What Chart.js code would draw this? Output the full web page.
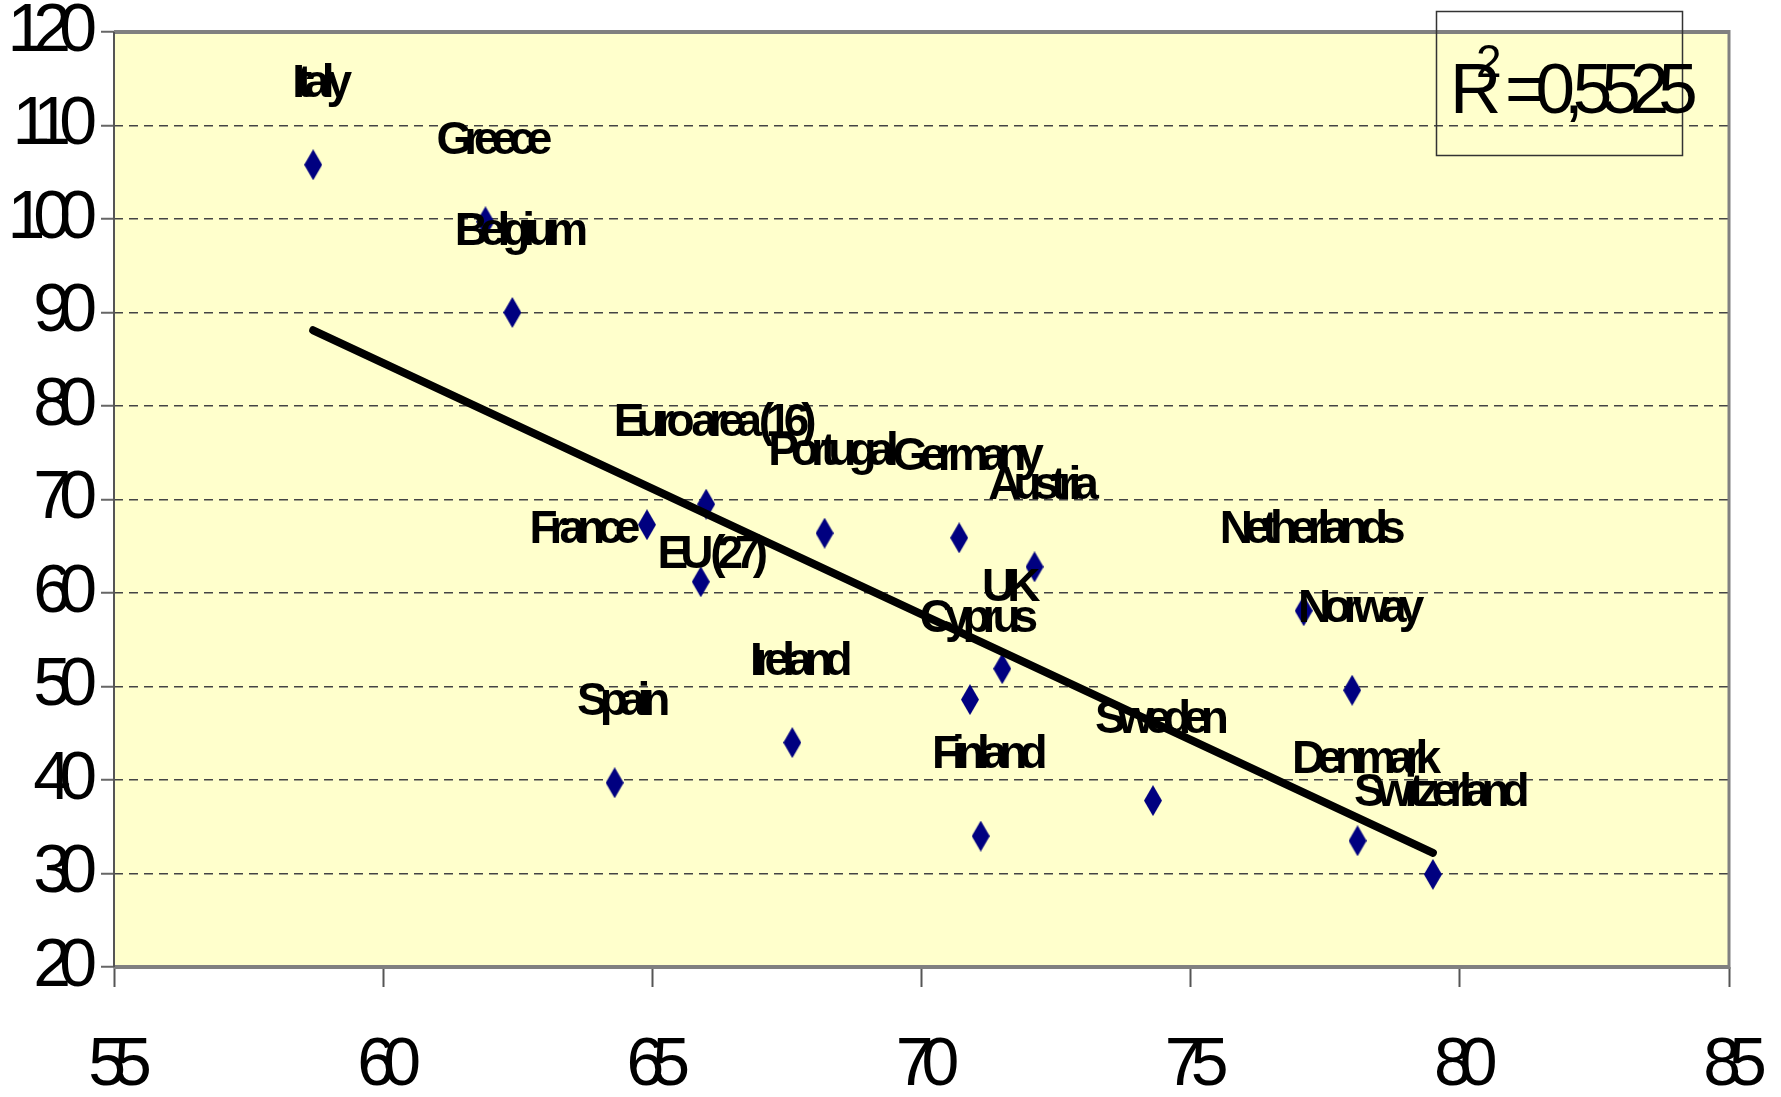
<!DOCTYPE html>
<html lang="en">
<head>
  <meta charset="UTF-8">
  <title>Scatter with trend line</title>
  <script src="https://cdn.jsdelivr.net/npm/chart.js"></script>
  <style>
    html, body { margin: 0; padding: 0; background: #fff; }
    #wrap { width: 1781px; height: 1097px; }
  </style>
</head>
<body>
  <div id="wrap"><canvas id="grafico" width="1781" height="1097"></canvas></div>

  <script>
    // data
    const countries = ['Italy', 'Greece', 'Belgium', 'Euro area (16)', 'France', 'EU (27)', 'Portugal',
      'Germany', 'Austria', 'UK', 'Cyprus', 'Ireland', 'Spain', 'Finland', 'Sweden',
      'Netherlands', 'Norway', 'Denmark', 'Switzerland'];
    const xValues = [58.7, 61.9, 62.4, 66.0, 64.9, 65.9, 68.2, 70.7, 72.1, 71.5, 70.9, 67.6, 64.3, 71.1, 74.3,
      77.1, 78.0, 78.1, 79.5];
    const yValues = [105.8, 99.7, 90.0, 69.5, 67.3, 61.2, 66.4, 65.9, 62.8, 51.9, 48.6, 44.0, 39.7, 34.0, 37.8,
      58.1, 49.6, 33.5, 29.9];
    const trendX = [58.7, 79.5];
    const trendY = [88.1, 32.2];
    const xTicks = [55, 60, 65, 70, 75, 80, 85];
    const yTicks = [20, 30, 40, 50, 60, 70, 80, 90, 100, 110, 120];
    const r2Value = '0,5525';

    // label placement (px from the point), most sit above the marker
    const labelShift = { 'France': [-66, 18], 'EU (27)': [8, -14] };
    const defaultShift = [5, -68];

    const FONT = "'Liberation Sans', Arial, sans-serif";

    // tall narrow diamond marker
    function diamond(w, h, color) {
      const c = document.createElement('canvas');
      c.width = w; c.height = h;
      const g = c.getContext('2d');
      g.fillStyle = color;
      g.beginPath();
      g.moveTo(w / 2, 0);
      g.lineTo(w, h / 2);
      g.lineTo(w / 2, h);
      g.lineTo(0, h / 2);
      g.closePath();
      g.fill();
      return c;
    }

    const points = xValues.map((x, i) => ({ x: x, y: yValues[i] }));
    const trend = trendX.map((x, i) => ({ x: x, y: trendY[i] }));

    const tightText = {
      id: 'tightText',
      beforeLayout(chart) { chart.ctx.letterSpacing = '-12px'; },
      beforeDraw(chart) {
        const { ctx, chartArea: a } = chart;
        ctx.letterSpacing = '-12px';
        ctx.save();
        ctx.fillStyle = '#FFFFCC';
        ctx.fillRect(a.left, a.top, a.right - a.left, a.bottom - a.top);
        ctx.restore();
      }
    };

    const frame = {
      id: 'frame',
      beforeDatasetsDraw(chart) {
        const { ctx, chartArea: a } = chart;
        ctx.save();
        ctx.strokeStyle = '#808080';
        ctx.lineWidth = 4;
        ctx.beginPath(); ctx.moveTo(a.left, a.top); ctx.lineTo(a.right, a.top); ctx.stroke();
        ctx.beginPath(); ctx.moveTo(a.left, a.bottom); ctx.lineTo(a.right, a.bottom); ctx.stroke();
        ctx.lineWidth = 3;
        ctx.beginPath(); ctx.moveTo(a.right, a.top - 2); ctx.lineTo(a.right, a.bottom + 2); ctx.stroke();
        ctx.strokeStyle = '#555';
        ctx.lineWidth = 2;
        ctx.beginPath(); ctx.moveTo(a.left, a.top); ctx.lineTo(a.left, a.bottom); ctx.stroke();
        ctx.restore();
      }
    };

    const pointLabels = {
      id: 'pointLabels',
      afterDatasetsDraw(chart) {
        const ctx = chart.ctx;
        const meta = chart.getDatasetMeta(0);
        ctx.save();
        ctx.font = 'bold 46px ' + FONT;
        ctx.letterSpacing = '-8px';
        ctx.fillStyle = '#000';
        ctx.textAlign = 'center';
        ctx.textBaseline = 'alphabetic';
        meta.data.forEach((p, i) => {
          const s = labelShift[countries[i]] || defaultShift;
          ctx.fillText(countries[i], p.x + s[0], p.y + s[1]);
        });
        ctx.restore();
      },
      afterDraw(chart) {
        const ctx = chart.ctx;
        ctx.save();
        ctx.strokeStyle = '#333';
        ctx.lineWidth = 1.5;
        ctx.strokeRect(1436.5, 11.5, 246, 144);
        ctx.fillStyle = '#000';
        ctx.textAlign = 'left';
        ctx.textBaseline = 'alphabetic';
        ctx.letterSpacing = '-11px';
        ctx.font = '71px ' + FONT;
        ctx.fillText('R', 1450, 113);
        ctx.fillText('=' + r2Value, 1505, 113);
        ctx.letterSpacing = '0px';
        ctx.font = '46px ' + FONT;
        ctx.fillText('2', 1476, 77);
        ctx.restore();
      }
    };

    new Chart(document.getElementById('grafico'), {
      type: 'scatter',
      data: {
        datasets: [{
          label: 'Countries',
          data: points,
          pointStyle: diamond(18, 31, '#000080'),
          pointRadius: 9,
          pointHoverRadius: 9,
          order: 2
        }, {
          type: 'line',
          label: 'Trend',
          data: trend,
          borderColor: '#000',
          borderWidth: 8,
          borderCapStyle: 'round',
          pointRadius: 0,
          fill: false,
          order: 1
        }]
      },
      options: {
        responsive: false,
        animation: false,
        devicePixelRatio: 1,
        layout: { padding: { left: 0, right: 52, top: 32, bottom: 0 } },
        plugins: { legend: { display: false }, tooltip: { enabled: false } },
        scales: {
          x: {
            type: 'linear',
            min: 55, max: 85,
            afterFit(scale) {
              scale.height = 130;
              scale.paddingLeft = 0; scale.paddingRight = 0;
            },
            afterBuildTicks(scale) { scale.ticks = xTicks.map(v => ({ value: v })); },
            border: { display: false },
            grid: { drawOnChartArea: false, drawTicks: true, tickLength: 20, tickColor: '#555', tickWidth: 2 },
            ticks: { color: '#000', font: { family: FONT, size: 68 }, padding: 38, maxRotation: 0 }
          },
          y: {
            type: 'linear',
            min: 20, max: 120,
            afterFit(scale) {
              scale.width = 114;
              scale.paddingTop = 0; scale.paddingBottom = 0;
            },
            afterBuildTicks(scale) { scale.ticks = yTicks.map(v => ({ value: v })); },
            border: { display: false, dash: [9, 6] },
            grid: { color: '#444', lineWidth: 1.5, tickLength: 13, tickColor: '#666', tickWidth: 2, tickBorderDash: [] },
            ticks: { color: '#000', font: { family: FONT, size: 68 }, padding: 16 }
          }
        }
      },
      plugins: [tightText, frame, pointLabels]
    });
  </script>
</body>
</html>
